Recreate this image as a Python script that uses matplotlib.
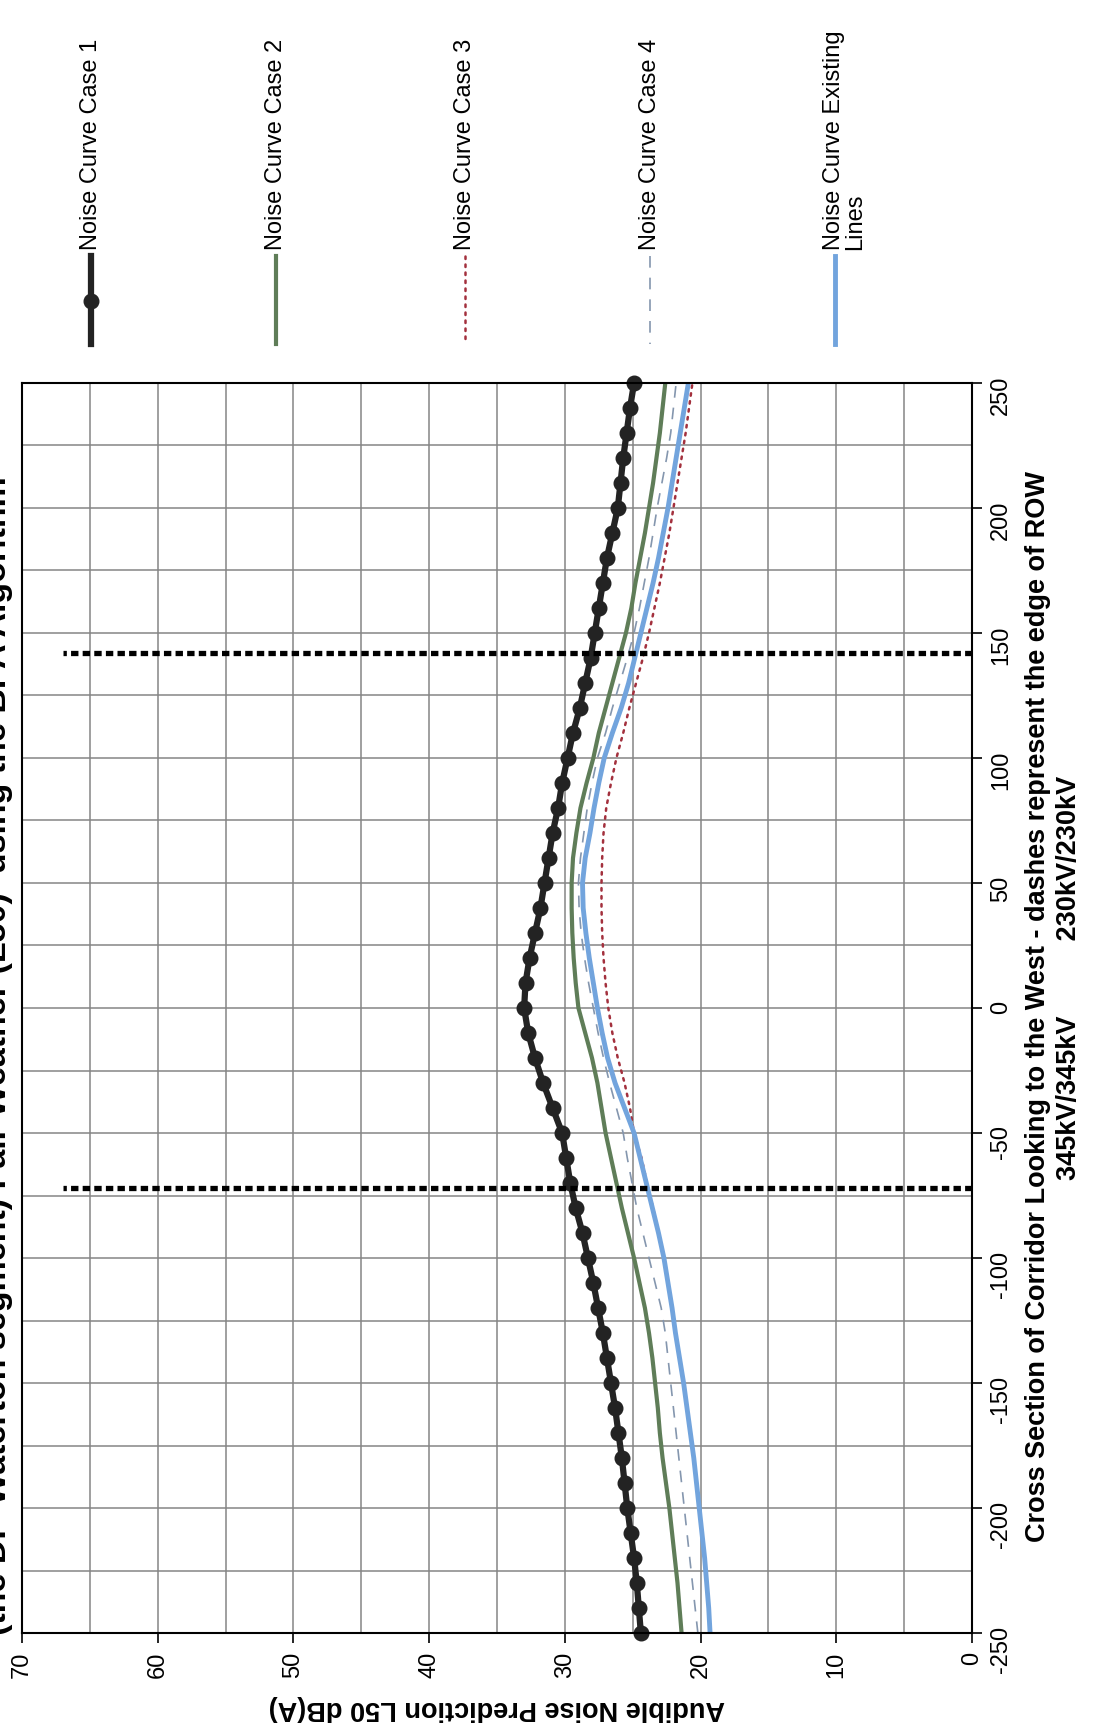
import matplotlib
matplotlib.use("Agg")
import matplotlib.pyplot as plt
from matplotlib.lines import Line2D
from matplotlib.ticker import MultipleLocator

# distance across the corridor (ft), one value every 10 ft
distance_ft = [-250, -240, -230, -220, -210, -200, -190, -180, -170, -160,
               -150, -140, -130, -120, -110, -100, -90, -80, -70, -60,
               -50, -40, -30, -20, -10, 0, 10, 20, 30, 40,
               50, 60, 70, 80, 90, 100, 110, 120, 130, 140,
               150, 160, 170, 180, 190, 200, 210, 220, 230, 240, 250]

# audible noise L50 dB(A)
case_1 = [24.4, 24.55, 24.7, 24.9, 25.15, 25.4, 25.6, 25.8, 26.05, 26.3,
          26.6, 26.9, 27.2, 27.55, 27.9, 28.3, 28.7, 29.2, 29.6, 29.9,
          30.2, 30.9, 31.6, 32.2, 32.7, 33.0, 32.9, 32.6, 32.2, 31.8,
          31.5, 31.2, 30.9, 30.5, 30.2, 29.8, 29.4, 28.9, 28.5, 28.1,
          27.8, 27.5, 27.2, 26.9, 26.5, 26.1, 25.9, 25.7, 25.45, 25.2, 24.9]

case_2 = [21.4, 21.55, 21.7, 21.9, 22.1, 22.3, 22.55, 22.8, 23.0, 23.15,
          23.35, 23.55, 23.8, 24.1, 24.5, 24.9, 25.35, 25.8, 26.2, 26.6,
          27.0, 27.3, 27.6, 28.0, 28.5, 29.0, 29.2, 29.35, 29.45, 29.5,
          29.5, 29.4, 29.15, 28.85, 28.4, 27.9, 27.5, 27.0, 26.5, 26.0,
          25.5, 25.1, 24.8, 24.45, 24.1, 23.8, 23.5, 23.25, 23.0, 22.8, 22.6]

case_3 = [19.3, 19.4, 19.55, 19.7, 19.9, 20.1, 20.3, 20.5, 20.75, 21.0,
          21.25, 21.55, 21.85, 22.1, 22.4, 22.7, 23.1, 23.5, 23.95, 24.35,
          24.9, 25.2, 25.6, 26.1, 26.5, 26.8, 27.0, 27.15, 27.25, 27.3,
          27.3, 27.25, 27.15, 26.95, 26.6, 26.2, 25.7, 25.25, 24.75, 24.25,
          23.8, 23.4, 23.0, 22.65, 22.3, 22.0, 21.7, 21.4, 21.1, 20.85, 20.6]

case_4 = [20.2, 20.4, 20.6, 20.8, 21.0, 21.2, 21.4, 21.6, 21.8, 22.0,
          22.2, 22.4, 22.6, 22.9, 23.35, 23.8, 24.25, 24.7, 25.05, 25.4,
          25.7, 26.2, 26.7, 27.15, 27.55, 27.9, 28.25, 28.55, 28.8, 28.95,
          29.0, 28.85, 28.6, 28.35, 28.0, 27.6, 27.0, 26.5, 25.95, 25.4,
          24.9, 24.5, 24.15, 23.8, 23.5, 23.2, 22.85, 22.5, 22.2, 22.0, 21.8]

existing = [19.3, 19.4, 19.55, 19.7, 19.9, 20.1, 20.3, 20.5, 20.75, 21.0,
            21.25, 21.55, 21.85, 22.1, 22.4, 22.7, 23.1, 23.55, 24.0, 24.45,
            24.9, 25.6, 26.3, 26.85, 27.25, 27.6, 27.9, 28.2, 28.45, 28.65,
            28.7, 28.5, 28.15, 27.85, 27.5, 27.1, 26.5, 25.85, 25.3, 24.85,
            24.4, 23.95, 23.5, 23.1, 22.75, 22.4, 22.1, 21.8, 21.5, 21.2, 20.9]

# edges of the right of way (dashed markers)
row_edge_ft = [-72, 142]
row_line_db = [0, 67]

legend_labels = ["Noise Curve Case 1", "Noise Curve Case 2", "Noise Curve Case 3",
                 "Noise Curve Case 4", "Noise Curve Existing\nLines"]

title = "(the DP-Waterton segment) Fair Weather (L50)  using the BPA Algorithm"
xlabel = "Audible Noise Prediction L50 dB(A)"
ylabel_1 = "Cross Section of Corridor Looking to the West - dashes represent the edge of ROW"
ylabel_2 = "345kV/345kV          230kV/230kV"

ARIAL = ["Liberation Sans", "DejaVu Sans"]
plt.rcParams["font.family"] = ARIAL
plt.rcParams["axes.unicode_minus"] = False

W, H = 1093, 1731
fig = plt.figure(figsize=(W / 100, H / 100), dpi=100)
fig.patch.set_facecolor("white")
ax = fig.add_axes([22 / W, 1 - 1634 / H, 950 / W, 1250 / H])

styles = [
    dict(color="#232323", lw=4.5, marker="o", ms=10.5, clip_on=False),
    dict(color="#5f7d58", lw=3.0),
    dict(color="#a3303d", lw=1.8, linestyle=(0, (1, 2.2)), dash_capstyle="round"),
    dict(color="#8496ae", lw=1.2, linestyle=(0, (7, 6))),
    dict(color="#72a4dd", lw=3.5),
]
series = [case_1, case_2, case_3, case_4, existing]
for vals, st in zip(series, styles):
    ax.plot(vals, distance_ft, **st)

for d in row_edge_ft:
    ax.plot(row_line_db, [d, d], color="black", lw=3.8,
            linestyle=(0, (1.4, 0.8)), zorder=5)

ax.set_xlim(70, 0)
ax.set_ylim(-250, 250)
ax.xaxis.set_major_locator(MultipleLocator(10))
ax.xaxis.set_minor_locator(MultipleLocator(5))
ax.yaxis.set_major_locator(MultipleLocator(50))
ax.yaxis.set_minor_locator(MultipleLocator(25))
ax.grid(which="both", color="#858585", lw=1.1)
ax.set_axisbelow(True)
ax.yaxis.tick_right()
ax.tick_params(which="minor", length=0)
ax.tick_params(which="major", direction="out", length=7, width=1.2, labelsize=17, pad=6)
ax.tick_params(axis="x", labelrotation=90)
ax.tick_params(axis="y", labelrotation=90)
for sp in ax.spines.values():
    sp.set_color("black")
    sp.set_linewidth(1.5)

ax.set_xlabel(xlabel, rotation=180, fontsize=19.5, fontweight="bold", labelpad=12)

# right-hand axis title, two lines
fig.text(1038 / W, 1 - 1007 / H, ylabel_1, rotation=90, ha="center", va="center",
         fontsize=19.5, fontweight="bold")
fig.text(1069 / W, 1 - 978 / H, ylabel_2, rotation=90, ha="center", va="center",
         fontsize=19.5, fontweight="bold")

# chart title, cut off by the left page edge as in the scan
fig.text(13 / W, 1 - 1056 / H, title, rotation=90, ha="right", va="center",
         fontsize=24.5, fontweight="bold")

# legend drawn by hand, vertical entries along the top
legend_x = [91, 276, 465, 650, 835]
for i, (lab, st) in enumerate(zip(legend_labels, styles)):
    xf = legend_x[i] / W
    st = {k: v for k, v in st.items() if k not in ("marker", "ms", "clip_on")}
    fig.add_artist(Line2D([xf, xf], [1 - 257 / H, 1 - 345 / H], transform=fig.transFigure, **st))
    if i == 0:
        fig.add_artist(Line2D([xf], [1 - 302 / H], transform=fig.transFigure,
                              marker="o", ms=10.5, color="#232323", lw=0))
    if "\n" in lab:
        fig.text(xf - 12 / W, 1 - 250 / H, lab, rotation=90, rotation_mode="anchor",
                 ha="left", va="top", fontsize=17, linespacing=0.95)
    else:
        fig.text(xf, 1 - 250 / H, lab, rotation=90, rotation_mode="anchor",
                 ha="left", va="center", fontsize=17)

fig.savefig("out.png", dpi=100)
